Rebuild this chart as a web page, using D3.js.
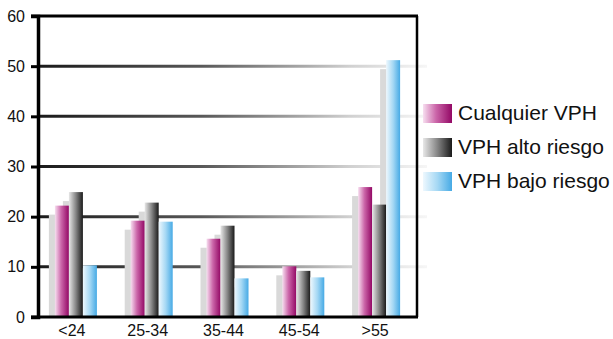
<!DOCTYPE html>
<html>
<head>
<meta charset="utf-8">
<script src="https://cdn.jsdelivr.net/npm/d3@7"></script>
<style>
  html, body { margin: 0; padding: 0; background: #fff; }
  svg { display: block; font-family: Arial, "Liberation Sans", sans-serif; }
</style>
</head>
<body>
<svg id="chart" width="613" height="339"></svg>
<script>
const categories = ["<24", "25-34", "35-44", "45-54", ">55"];
const seriesNames = ["Cualquier VPH", "VPH alto riesgo", "VPH bajo riesgo"];
const cualquier = [22.2, 19.2, 15.6, 10.1, 25.9];
const alto = [24.9, 22.8, 18.2, 9.2, 22.4];
const bajo = [10.3, 19.0, 7.7, 7.9, 51.2];
const yTicks = [0, 10, 20, 30, 40, 50, 60];

const seriesValues = [cualquier, alto, bajo];
const gradIds = ["gMag", "gBlk", "gBlu"];

const svg = d3.select("#chart");
const W = 613, H = 339;
const m = { left: 38, right: 196, top: 16, bottom: 22 };
const x0 = m.left, x1 = W - m.right, yTop = m.top, yBot = H - m.bottom;

const x = d3.scaleBand().domain(categories).range([x0, x1]).paddingInner(0).paddingOuter(0);
const inner = d3.scaleBand().domain(d3.range(3)).range([0, 42]);
const y = d3.scaleLinear().domain([0, 60]).range([yBot, yTop]);

const defs = svg.append("defs");
function hGrad(id, stops) {
  const g = defs.append("linearGradient").attr("id", id)
    .attr("x1", "0%").attr("x2", "100%").attr("y1", "0%").attr("y2", "0%");
  stops.forEach(s => g.append("stop").attr("offset", s[0]).attr("stop-color", s[1]));
}
hGrad("gMag", [["0%", "#f7dff0"], ["45%", "#cb66a9"], ["100%", "#930865"]]);
hGrad("gBlk", [["0%", "#e8e8e8"], ["50%", "#858585"], ["100%", "#1a1a1a"]]);
hGrad("gBlu", [["0%", "#eef8fe"], ["50%", "#a5d8f4"], ["100%", "#46aae5"]]);
const gg = defs.append("linearGradient").attr("id", "gGrid")
  .attr("gradientUnits", "userSpaceOnUse")
  .attr("x1", x0).attr("x2", x1 + 10).attr("y1", 0).attr("y2", 0);
[["0%", "#1a1a1a"], ["42%", "#585858"], ["68%", "#a8a8a8"], ["80%", "#d0d0d0"], ["100%", "#f6f6f6"]]
  .forEach(s => gg.append("stop").attr("offset", s[0]).attr("stop-color", s[1]));

// gridlines
svg.append("g").selectAll("line")
  .data(yTicks.filter(t => t > 0 && t < 60))
  .join("line")
  .attr("x1", x0).attr("x2", x1 + 10)
  .attr("y1", d => y(d)).attr("y2", d => y(d))
  .attr("stroke", "url(#gGrid)").attr("stroke-width", 3);

// data rows
const rows = [];
categories.forEach((c, i) => {
  seriesValues.forEach((vals, s) => rows.push({ c, s, v: vals[i] }));
});
const bw = inner.bandwidth();
const groupOff = (x.bandwidth() - 42) / 2;
const bx = d => x(d.c) + groupOff + inner(d.s);

// shadows
const sdx = -6, sdy = 9;
svg.append("g").selectAll("rect")
  .data(rows)
  .join("rect")
  .attr("x", d => bx(d) + sdx)
  .attr("y", d => y(d.v) + sdy)
  .attr("width", bw)
  .attr("height", d => Math.max(0, yBot - y(d.v) - sdy))
  .attr("fill", "#d9d9d9");

// bars
svg.append("g").selectAll("rect")
  .data(rows)
  .join("rect")
  .attr("x", d => bx(d))
  .attr("y", d => y(d.v))
  .attr("width", bw)
  .attr("height", d => yBot - y(d.v))
  .attr("fill", d => `url(#${gradIds[d.s]})`);

// frame: top line, right border, bottom axis
svg.append("line").attr("x1", x0 - 7).attr("x2", x1 + 1).attr("y1", yTop).attr("y2", yTop)
  .attr("stroke", "#000").attr("stroke-width", 3);
svg.append("line").attr("x1", x1).attr("x2", x1).attr("y1", yTop).attr("y2", yBot)
  .attr("stroke", "#000").attr("stroke-width", 2.5);
svg.append("line").attr("x1", x0 - 7).attr("x2", x1 + 1).attr("y1", yBot).attr("y2", yBot)
  .attr("stroke", "#000").attr("stroke-width", 3);

// y axis
const yAxis = svg.append("g").attr("transform", `translate(${x0},0)`)
  .call(d3.axisLeft(y).tickValues(yTicks).tickSize(7).tickPadding(6));
yAxis.select(".domain").attr("stroke", "#000").attr("stroke-width", 3.5);
yAxis.selectAll(".tick line").attr("stroke", "#000").attr("stroke-width", 3);
yAxis.selectAll(".tick text").attr("font-size", 16).attr("fill", "#111")
  .attr("font-family", "Arial, 'Liberation Sans', sans-serif");

// x axis labels
const xAxis = svg.append("g").attr("transform", `translate(-4,${yBot})`)
  .call(d3.axisBottom(x).tickSize(0).tickPadding(8));
xAxis.select(".domain").remove();
xAxis.selectAll(".tick text").attr("font-size", 16).attr("fill", "#111")
  .attr("font-family", "Arial, 'Liberation Sans', sans-serif");

// legend
const lg = svg.append("g").attr("transform", "translate(423,104)");
const li = lg.selectAll("g").data(seriesNames).join("g")
  .attr("transform", (d, i) => `translate(0,${i * 34})`);
li.append("rect").attr("width", 29).attr("height", 19)
  .attr("fill", (d, i) => `url(#${gradIds[i]})`);
li.append("text").attr("x", 35).attr("y", 15.5).attr("font-size", 21).attr("fill", "#111")
  .text(d => d);
</script>
</body>
</html>
